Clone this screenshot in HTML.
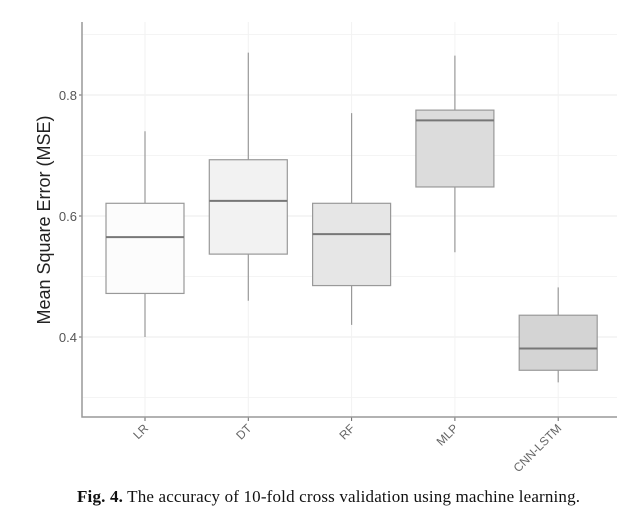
<!DOCTYPE html>
<html><head><meta charset="utf-8"><style>
body{margin:0;background:#fff;width:630px;height:520px;overflow:hidden}
svg{display:block}
</style></head><body>
<svg id="chart" width="630" height="520" xmlns="http://www.w3.org/2000/svg"></svg>
<script>
const categories=["LR","DT","RF","MLP","CNN-LSTM"];
const maxVals=[0.74,0.87,0.77,0.865,0.482];
const q3Vals=[0.621,0.693,0.621,0.775,0.436];
const medVals=[0.565,0.625,0.57,0.758,0.381];
const q1Vals=[0.472,0.537,0.485,0.648,0.345];
const minVals=[0.40,0.46,0.42,0.54,0.325];
const yTicks=[0.4,0.6,0.8];
const yMinor=[0.3,0.5,0.7,0.9];
const fills=["#fcfcfc","#f2f2f2","#e6e6e6","#dcdcdc","#d4d4d4"];
const svg=document.getElementById('chart');
const NS="http://www.w3.org/2000/svg";
const L=82,R=617,T=22,B=417;
function y(v){return 95+(0.8-v)*605;}
function x(i){return 145+i*103.3;}
function mk(tag,a,p){const e=document.createElementNS(NS,tag);for(const k in a)e.setAttribute(k,a[k]);(p||svg).appendChild(e);return e;}
yMinor.forEach(v=>{const g=mk('line',{x1:L,x2:R,y1:y(v),y2:y(v),stroke:'#f4f4f4','stroke-width':1});});
yTicks.forEach(v=>{const g=mk('line',{x1:L,x2:R,y1:y(v),y2:y(v),stroke:'#ebebeb','stroke-width':1});
 const t=mk('text',{x:L-5,y:y(v)+5,'text-anchor':'end','font-family':'Liberation Sans, sans-serif','font-size':13,fill:'#555'});t.textContent=v.toFixed(1);
 mk('line',{x1:L-3,x2:L,y1:y(v),y2:y(v),stroke:'#666'});});
categories.forEach((c,i)=>{mk('line',{x1:x(i),x2:x(i),y1:T,y2:B,stroke:'#f2f2f2'});});
categories.forEach((c,i)=>{
 const cx=x(i),w=78;
 const g=mk('g',{});
 mk('line',{x1:cx,x2:cx,y1:y(maxVals[i]),y2:y(minVals[i]),stroke:'#999','stroke-width':1.2},g);
 mk('rect',{x:cx-w/2,y:y(q3Vals[i]),width:w,height:y(q1Vals[i])-y(q3Vals[i]),fill:fills[i],stroke:'#999','stroke-width':1.2},g);
 mk('line',{x1:cx-w/2,x2:cx+w/2,y1:y(medVals[i]),y2:y(medVals[i]),stroke:'#777','stroke-width':2},g);
 mk('line',{x1:cx,x2:cx,y1:B,y2:B+4,stroke:'#666'});
 const t=mk('text',{x:cx+4,y:B+12,'text-anchor':'end','font-family':'Liberation Sans, sans-serif','font-size':12,fill:'#666',transform:`rotate(-45 ${cx+4} ${B+12})`});t.textContent=c;
});
const ax=mk('path',{d:`M${L} ${T}V${B}H${R}`,fill:'none',stroke:'#999','stroke-width':1.5});
const yt=mk('text',{x:50,y:220,'text-anchor':'middle','font-family':'Liberation Sans, sans-serif','font-size':18,fill:'#222',transform:'rotate(-90 50 220)'});yt.textContent='Mean Square Error (MSE)';
const cap=mk('text',{x:77,y:502,'font-family':'Liberation Serif, serif','font-size':17,fill:'#111',textLength:503,lengthAdjust:'spacing'});
const b=mk('tspan',{'font-weight':'bold'},cap);b.textContent='Fig. 4.';
const r=mk('tspan',{},cap);r.textContent=' The accuracy of 10-fold cross validation using machine learning.';
</script>
</body></html>
